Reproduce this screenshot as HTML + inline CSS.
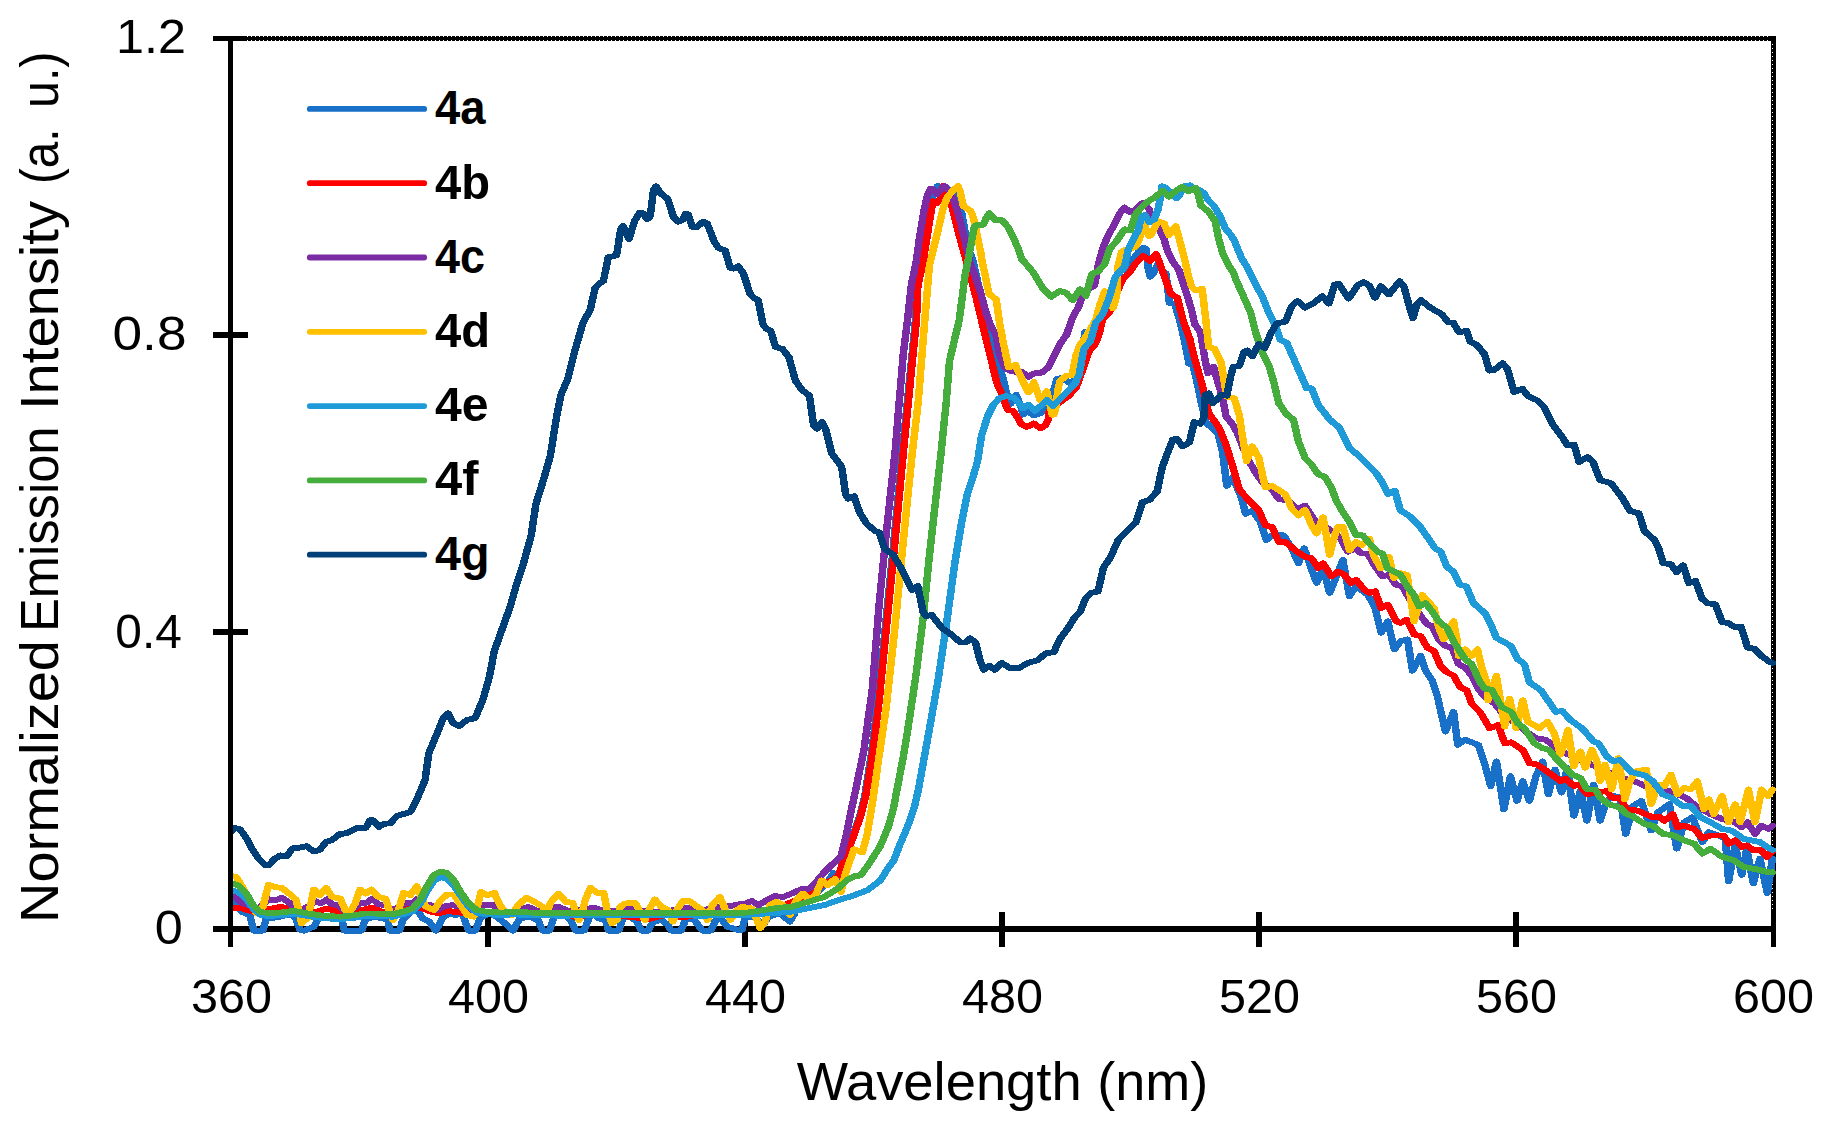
<!DOCTYPE html>
<html lang="en"><head><meta charset="utf-8"><title>Normalized Emission Intensity</title>
<style>html,body{margin:0;padding:0;background:#fff}svg{display:block}text{font-family:"Liberation Sans",sans-serif;fill:#000}.b{font-weight:bold}</style></head><body>
<svg width="1822" height="1126" viewBox="0 0 1822 1126">
<rect width="1822" height="1126" fill="#fff"/>
<g fill="#000">
<rect x="213" y="36" width="1563" height="5"/>
<rect x="1771" y="36" width="5" height="911"/>
<rect x="213" y="926" width="1563" height="6"/>
<rect x="213" y="332" width="35" height="6"/>
<rect x="213" y="629" width="35" height="6"/>
<rect x="485" y="912" width="6" height="35"/>
<rect x="742" y="912" width="6" height="35"/>
<rect x="999" y="912" width="6" height="35"/>
<rect x="1256" y="912" width="6" height="35"/>
<rect x="1513" y="912" width="6" height="35"/>
</g>
<g stroke="#fff" stroke-width="1" stroke-dasharray="1 3" shape-rendering="crispEdges"><line x1="1772.5" y1="44" x2="1772.5" y2="910"/><line x1="247.2" y1="36.5" x2="1770" y2="36.5"/><line x1="247.2" y1="40.5" x2="1770" y2="40.5"/></g>
<clipPath id="pc"><rect x="230.5" y="0" width="1546" height="1126"/></clipPath>
<g clip-path="url(#pc)"><g fill="none" stroke-width="5.8" stroke-linejoin="round" stroke-linecap="round" shape-rendering="crispEdges" transform="scale(1.29,1)">
<polyline points="178.68,898.6 187.21,911.7 193.57,915 196.74,930.7 203.80,930.7 206.36,918.3 213.95,917.5 225.50,914.2 229.30,918.3 232.48,929.8 235.66,930.7 243.33,926.6 247.21,918.3 257.36,918.3 265.04,920 266.98,930.7 280.39,930.7 282.95,920 289.30,916.7 296.98,918.3 300.78,920 302.09,930.7 309.69,930.7 312.25,920 318.68,911.7 323.80,910.1 327.60,918.3 332.71,921.6 337.83,930.7 342.95,918.3 347.98,913.4 353.10,915 358.22,913.4 363.33,930.7 368.45,930.7 372.25,918.3 378.68,913.4 385.04,916.7 391.40,923.3 397.83,930.7 402.87,918.3 404.19,918.3 410.54,916.7 416.98,920 420.78,930.7 425.89,930.7 429.69,916.7 437.36,915 442.48,920 446.28,930.7 452.71,930.7 456.51,918.3 459.07,911.7 464.19,918.3 469.30,920 471.86,930.7 479.53,930.7 483.33,916.7 489.69,917.5 493.57,921.6 497.36,930.7 502.48,930.7 506.28,921.6 512.71,920 517.83,924.9 520.31,930.7 527.98,930.7 531.86,918.3 538.22,920 544.57,930.7 551.01,930.7 554.81,920 558.60,918.3 563.72,926.6 571.40,929.8 575.27,929.8 577.75,916.7 584.19,916.7 591.86,924.9 595.66,916.7 604.57,913.4 612.25,921.6 616.05,913.4 617.36,905.1 626.28,898.6 635.27,890.3 641.63,882.1 646.12,873 650.54,877.2 653.72,859 660.16,839.3 666.51,816.2 670.31,796.5 675.35,755.3 680.70,700.2 687.05,617.6 692.40,548.8 699.53,451.7 703.33,402.3 707.21,352.9 709.69,320 710.78,285.3 714.26,262 717.44,235.9 720.00,215.3 722.56,197.2 726.74,186.1 732.17,187.3 737.21,190.6 741.71,197.2 745.50,212.8 748.06,231.7 749.38,244.1 753.80,258.9 770.70,351.7 775.74,370 778.14,381.5 780.23,393.1 783.49,403.8 787.67,394.6 791.24,406.1 793.02,414.6 796.59,411.5 801.40,415.3 806.74,413 810.93,410 813.33,404.6 816.28,393.1 819.22,379.2 822.87,377.7 827.60,381.5 830.54,383.8 836.05,372.7 841.16,331.9 843.72,349 848.37,342.4 851.40,333.2 853.64,320.1 860.00,310.8 865.12,292.4 869.53,279.2 873.95,274.7 878.53,258.9 883.18,251 886.20,247.6 888.53,249 890.08,268.8 891.55,276.7 893.88,273.7 897.67,263.9 900.78,269.8 903.88,273.7 906.51,302.9 910.62,304.2 914.65,320.8 918.45,342.2 921.63,363.6 924.88,365.3 928.68,386.7 931.86,406.4 935.04,422.9 944.03,433.2 947.83,452.9 951.01,485.9 955.50,477.6 961.86,495.7 965.66,513.9 970.78,510.6 977.21,522.1 981.63,540.2 986.12,535.3 995.04,535.3 1001.47,548.4 1006.51,563.3 1011.01,548.4 1015.50,564.9 1020.62,583 1025.66,568.2 1030.78,592.9 1035.89,576.4 1041.01,560 1046.12,596.2 1051.24,586.3 1060.16,594.5 1065.58,606.5 1070.70,632.8 1075.81,621.3 1080.85,649.3 1085.97,641 1091.09,639.4 1094.96,670.7 1101.32,655.9 1105.12,670.7 1110.23,680.6 1114.11,695.4 1120.47,731.6 1126.82,711.9 1130.00,744.8 1135.74,739.8 1145.97,744.8 1151.09,764.7 1155.58,786.1 1160.08,761.4 1165.81,809.2 1170.93,776.2 1175.97,800.9 1180.47,781.2 1185.58,800.9 1190.70,776.2 1195.81,761.4 1200.23,794.3 1205.35,769.6 1210.47,792.7 1214.96,768 1220.08,815.7 1225.12,791 1230.23,820.7 1235.35,784.5 1240.47,820.7 1245.58,800.9 1250.70,796 1255.81,797.6 1260.23,833.9 1265.97,805.9 1272.40,800.9 1280.00,830.6 1285.12,812.5 1294.11,804.2 1299.84,848.7 1305.58,822.3 1311.94,817.4 1319.61,842.1 1324.73,832.2 1332.40,835.5 1337.44,838.8 1340.00,881.6 1345.12,845.4 1350.23,875 1354.11,848.7 1359.15,883.3 1364.26,858.6 1370.00,893.1 1373.95,858.6" stroke="#1870C8"/>
<polyline points="178.68,907.6 187.21,908.4 196.12,911.7 207.60,909.3 217.83,906.8 225.50,910.1 235.66,911.7 245.89,911.7 253.57,908.4 261.24,911.7 271.40,913.4 280.39,910.1 288.68,907.6 295.66,911.7 308.45,911.7 314.81,908.4 327.60,908.4 333.95,911.7 340.39,913.4 346.74,910.9 356.98,912.6 365.89,913.4 378.68,911.7 391.40,913.4 401.63,912.6 413.10,913.7 432.25,915 445.04,916.7 464.19,914.2 487.13,916.7 502.48,919.1 515.27,915 527.98,917.5 547.13,914.2 566.28,913.4 579.07,911.7 591.86,910.1 604.57,906.8 611.01,903.5 619.92,898.6 630.16,893.6 636.51,885.4 644.19,880.4 649.92,876.3 654.42,859 660.78,839.3 667.13,816.2 671.01,796.5 676.20,755.3 681.55,700.2 687.91,617.6 693.26,548.8 700.31,451.7 704.11,402.3 707.91,352.9 710.47,320 711.55,285.3 715.58,262 718.76,235.9 721.32,215.3 723.18,201.3 726.36,202.9 729.61,197.2 731.16,186.1 737.21,202.9 740.54,219.4 743.72,235.9 746.28,248.2 749.07,260.6 756.43,296.3 762.56,329.3 772.79,383.1 776.98,395.4 779.38,403.8 781.16,410 785.27,410.7 788.91,417.6 791.24,423.8 796.05,426.9 801.40,423.4 806.74,428.4 810.31,425.3 812.71,419.2 813.33,411.5 819.22,404.6 828.22,396.1 834.19,387.7 837.13,377.7 844.03,351.7 849.15,343.8 852.25,333.2 854.50,320.1 860.78,310.8 865.89,292.4 870.31,279.2 875.50,272.7 880.08,263.9 886.20,256 891.55,260.9 896.20,254 899.22,263.9 904.50,283.2 907.52,293.7 912.64,297.7 917.21,320.8 922.33,338.9 926.12,358.7 931.24,381.7 934.42,398.2 936.98,413 941.47,421.2 945.27,428.2 950.39,444.7 955.50,466.1 960.62,489.2 966.98,499 975.89,510.6 981.01,525.4 986.12,527 991.24,541.9 996.36,541.9 1003.95,550.1 1011.63,556.7 1016.74,558.3 1021.86,568.2 1025.66,563.3 1032.09,576.4 1037.21,571.5 1042.25,574.8 1047.36,583 1051.24,579.7 1057.60,589.6 1061.40,592.9 1065.89,591.2 1070.70,608.1 1075.81,604.8 1082.17,621.3 1085.97,622.9 1090.47,619.6 1096.20,634.5 1101.32,636.1 1106.43,647.6 1111.55,650.9 1116.59,665.7 1121.71,672.3 1126.82,675.6 1131.94,687.2 1137.05,690.4 1140.85,703.6 1147.29,711.9 1154.88,728.3 1161.32,725 1166.43,743.1 1171.47,742.3 1180.47,749.9 1185.58,763.1 1191.94,764.7 1200.93,772.9 1209.84,781.2 1213.64,778.7 1220.08,786.1 1223.88,784.5 1230.23,794.3 1236.67,792.7 1245.58,791 1249.38,797.6 1255.81,797.6 1260.93,809.2 1269.84,810.8 1281.32,817.4 1286.43,816.6 1290.23,820.7 1296.67,814.1 1300.47,827.3 1305.58,825.6 1313.26,828.9 1319.61,838 1325.97,835.5 1336.20,835.5 1340.00,843.7 1345.12,840.4 1350.23,847 1354.11,845.4 1359.15,850.3 1364.26,849.5 1370.00,856.9 1373.95,851.1" stroke="#FF0000"/>
<polyline points="178.68,897.7 182.09,896.9 187.21,902.7 199.92,908.4 208.91,899.4 213.95,900.2 218.45,897.7 224.19,902.7 229.30,910.1 235.66,908.4 240.78,905.1 244.65,901 248.45,903.5 253.57,899.4 257.36,904.3 262.48,905.1 267.60,911.7 272.71,910.1 279.07,903.5 284.19,902.7 288.68,898.6 293.10,904.3 299.53,905.1 304.65,910.1 309.69,906.8 314.81,902.7 319.92,903.5 323.80,898.6 327.60,905.1 333.95,905.1 339.07,910.1 345.43,906 350.54,905.1 356.98,906.8 362.09,911.7 371.01,910.1 374.81,905.1 382.48,905.1 387.60,911.7 399.07,911.7 400.39,911.7 409.30,906.8 418.22,911.7 432.25,906.5 442.48,911.7 460.39,907.6 470.54,911.7 488.45,908.4 502.48,911.7 515.27,911.7 531.86,907.6 543.33,910.9 556.12,906.8 566.28,906 572.71,904.3 577.75,903.5 582.87,901 587.98,905.1 594.42,900.2 600.78,896.1 607.13,896.9 613.57,893.6 616.12,892 622.48,888.7 627.60,888.7 632.71,882.1 637.83,873.9 644.19,865.6 651.86,856.6 655.66,837.6 659.46,812.9 663.33,789.9 669.77,749.7 676.20,689.2 681.55,603.9 686.90,535.1 693.88,451.7 697.05,402.3 700.31,352.9 703.49,320 706.43,285.3 710.16,262 713.02,235.9 716.20,211.2 719.07,194.7 721.32,188.9 723.18,189.3 726.36,193.9 729.61,189.8 732.17,186.1 735.35,190.6 738.53,197.2 741.71,208.7 744.88,223.5 747.44,237.5 750.00,252.3 751.94,262 759.53,289.8 764.57,313.5 768.68,328 771.78,333.2 774.81,354.3 778.91,367.5 784.03,371.4 792.17,372.1 797.29,376.7 801.40,373.4 807.52,372.7 812.64,367.5 817.67,354.3 821.78,343.8 826.90,334.5 831.01,318.7 836.05,306.9 839.15,296.3 842.17,289.8 848.37,285.8 851.40,264.8 855.19,247.1 859.46,234.2 864.03,224.3 867.83,213.5 871.71,207.5 876.28,212.5 880.08,209.5 886.20,202.6 890.85,209.5 892.33,215.4 898.45,229.3 902.33,239.2 905.35,252 909.22,261.9 913.80,269.8 918.45,287.9 923.57,309.3 926.12,324.1 930.62,332.3 933.80,357 936.36,373.5 940.78,366.9 944.03,381.7 947.83,398.2 950.39,416.3 955.50,424.5 959.30,433.2 963.18,446.3 968.22,461.2 973.33,472.7 979.77,484.2 986.12,489.2 991.24,499 998.91,500.7 1005.27,508.9 1011.63,505.6 1019.30,520.4 1029.53,528.7 1038.45,536.9 1044.81,551.7 1051.24,548.4 1055.04,553.4 1060.16,553.4 1065.27,564.9 1071.63,576.4 1076.74,574.8 1081.86,584.7 1086.98,586.3 1096.20,606.5 1102.56,618 1106.43,624.6 1110.23,626.2 1115.35,639.4 1120.47,646 1125.58,647.6 1130.70,664.1 1135.74,667.4 1140.85,675.6 1145.97,688.8 1151.09,697 1158.76,703.6 1163.88,711.9 1170.23,720.1 1176.59,723.4 1183.02,731.6 1190.62,738.2 1198.29,739.8 1203.41,744.8 1204.73,747.4 1217.52,755.6 1236.67,766.3 1255.81,777 1269.84,782.8 1281.32,789.4 1294.11,791 1306.82,797.6 1314.50,805.9 1325.97,814.1 1334.96,819 1345.12,822.3 1350.23,827.3 1354.73,822.3 1360.47,833.9 1365.58,825.6 1370.70,828.9 1373.95,825.6" stroke="#7B2CA4"/>
<polyline points="178.68,875.5 183.33,877.2 187.21,885.4 193.57,901.9 198.68,913.4 203.80,906.8 208.22,884.6 212.71,887 218.45,887.9 224.19,893.6 229.30,899.4 231.86,911.7 233.80,923.3 238.22,918.3 240.78,905.1 243.33,889.5 247.83,895.3 252.95,887.9 257.36,896.9 263.80,898.6 267.60,910.1 271.40,911.7 275.27,903.5 279.07,889.5 283.57,893.6 288.06,889.5 293.10,896.9 298.84,898.6 302.09,911.7 304.65,920 308.45,911.7 312.95,892.8 317.98,895.3 323.10,886.2 326.98,898.6 330.16,906.8 336.51,910.1 341.63,900.2 346.74,894.4 351.86,894.4 356.98,905.1 362.09,915 367.13,916.7 369.69,908.4 372.95,892 377.98,895.3 383.10,892.8 387.60,905.1 391.40,911.7 396.51,915 401.63,905.1 401.63,905.1 407.98,897.7 414.42,901.9 420.78,906.8 423.33,913.4 427.13,901.9 432.95,893.6 438.68,901.9 443.80,902.7 446.28,911.7 448.84,920 451.40,911.7 453.95,898.6 457.83,887.9 462.95,892.8 467.98,892.8 470.54,910.1 474.42,923.3 478.22,920 480.78,906.8 484.57,903.5 492.25,902.7 496.12,911.7 499.92,920 502.48,911.7 507.60,899.4 512.71,906.8 517.83,910.1 521.63,921.6 525.43,908.4 529.30,901 534.42,901 540.78,906.8 545.89,911.7 548.45,920 552.25,905.1 557.98,896.9 562.48,910.1 566.28,920 571.40,910.1 575.27,906.8 582.87,908.4 586.74,920 589.30,928.2 593.10,921.6 596.90,905.1 602.02,901.9 607.13,905.1 612.25,915 617.36,900.2 622.48,893.6 627.60,900.2 632.71,893.6 637.13,880.4 641.63,885.4 647.36,878.8 651.86,892 655.66,872.2 662.02,849.2 668.45,852.5 672.25,834.3 676.12,804.7 681.55,755.3 686.90,708.5 693.26,634.1 698.60,562.6 702.87,507.5 707.29,451.7 711.78,402.3 714.34,361.2 716.90,320 720.47,265.5 724.50,244.1 727.67,227.6 730.85,209.5 734.03,198 738.53,190.6 742.64,186.1 744.26,191.4 746.82,206.2 752.56,211.2 754.50,217.7 756.36,227.6 758.29,240 760.23,252.3 761.47,262 766.67,293.7 772.25,299.6 774.81,322.7 777.91,343.8 781.94,367.5 787.05,364.8 792.17,379.3 797.29,392.5 801.40,382 806.43,400.4 811.55,391.2 815.66,414.9 816.90,414.6 818.68,406.9 819.84,391.5 821.63,380.8 826.98,375.4 831.01,375.4 834.03,355.6 837.13,345.1 842.17,335.9 849.38,320.1 852.40,305.6 856.51,291.1 862.64,308.2 865.66,296.3 866.28,268.8 869.38,252 872.09,250 880.08,247.1 883.18,239.2 886.98,224.3 890.85,236.2 893.10,233.2 897.67,221.4 902.33,223.3 906.12,235.2 911.47,226.3 913.80,237.2 916.82,252 919.15,263.9 921.01,274.7 923.57,286.2 926.74,290.3 931.86,288.7 934.42,315.9 936.98,347.2 941.47,348.8 946.51,362 949.07,381.7 951.01,396.6 956.74,398.2 960.62,414.7 963.18,436.5 966.36,461.2 970.78,446.3 975.89,457.9 979.07,477.6 981.01,487.5 986.12,485.9 996.36,494.1 1001.47,508.9 1006.51,515.5 1011.63,509.7 1016.74,525.4 1020.62,533.6 1025.66,517.2 1030.78,555 1034.65,535.3 1037.21,527 1041.01,527 1046.12,550.1 1051.24,541.9 1055.66,545.1 1061.40,538.6 1065.27,556.7 1070.39,568.2 1076.74,556.7 1080.54,578.1 1085.66,573.1 1090.78,574.8 1096.20,621.3 1102.56,594.9 1111.55,608.1 1115.35,627.9 1119.15,639.4 1126.82,621.3 1129.38,639.4 1130.70,655.9 1135.74,649.3 1140.85,655.9 1145.35,649.3 1148.53,667.4 1152.40,682.2 1153.64,700.3 1160.00,675.6 1162.56,695.4 1166.43,726.7 1170.23,698.7 1175.35,728.3 1180.47,700.3 1184.26,721.7 1189.38,725 1193.18,728.3 1199.61,721.7 1204.73,733.3 1209.77,754.7 1215.58,730 1220.00,766.2 1225.12,751.4 1228.91,767.8 1234.03,749.7 1237.91,761.4 1240.47,781.2 1244.26,764.7 1249.38,789.4 1254.50,758.1 1259.61,799.3 1263.41,781.2 1268.53,771.3 1276.20,769.6 1280.00,804.2 1285.12,784.5 1290.23,786.1 1295.35,774.6 1300.47,794.3 1305.58,787.8 1310.70,789.4 1315.81,781.2 1320.85,809.2 1324.73,799.3 1328.53,814.1 1334.96,796 1340.00,822.3 1345.12,804.2 1348.99,822.3 1355.35,789.4 1360.47,822.3 1365.58,789.4 1370.70,796 1373.95,789.4" stroke="#FFC000"/>
<polyline points="178.68,890.3 184.65,892 191.01,898.6 196.12,908.4 201.24,914.7 207.60,916 216.51,915.4 228.06,913.7 238.22,916 251.01,918.3 263.80,919.1 273.95,918 282.95,916 295.66,916.3 304.65,916.7 312.25,914.4 319.92,911.4 326.28,902.7 331.40,890.3 336.51,880.4 341.63,877.2 346.74,878.8 351.86,885.4 356.98,895.3 363.33,906.5 369.69,912.7 377.36,914.4 388.84,915 399.07,914.4 413.10,915.4 438.68,915.7 464.19,915 489.69,915.4 515.27,915 540.78,915.7 566.28,915.4 579.07,915 591.86,913.7 604.57,912.7 613.57,911.7 626.28,908.4 639.07,905.1 651.86,899.4 662.02,895.3 672.25,890.3 682.48,880.4 688.84,867.3 692.71,860.7 697.75,844.2 704.19,824.5 709.30,804.7 711.86,789.9 719.92,733.2 727.44,678.2 733.80,623.1 740.23,562.6 745.58,521.3 749.84,493.8 753.26,481.4 757.75,461.6 760.93,435.3 765.66,416.1 769.84,405.3 774.57,398.4 779.92,396.1 785.89,397.7 789.46,402.3 793.02,408.4 797.21,404.6 802.02,410.7 807.36,405.3 811.55,400 816.28,406.1 822.25,398.4 828.22,390.7 833.57,383.1 836.51,374.6 840.16,349 845.27,341.1 849.38,322.7 854.50,314.8 859.53,299 864.65,276.6 867.83,271.8 871.71,266.8 874.73,249 878.53,239.2 882.40,230.3 884.73,217.4 887.36,215 890.85,222.4 894.65,219.4 897.67,209.5 899.61,196.7 900.78,186.3 903.10,187.3 907.67,193.2 911.86,198.2 914.57,194.7 917.60,186.3 922.25,185.3 925.27,188.8 929.15,189.8 932.95,192.7 936.74,200.6 941.40,206.6 945.97,216.4 949.77,228.3 953.64,234.2 956.67,240.1 959.77,250 962.79,258.9 966.67,266.8 973.33,284.6 978.45,296.1 983.57,312.6 988.68,325.7 992.48,339.7 997.60,343 1003.95,362 1009.07,376.8 1012.95,388.3 1016.74,388.3 1021.86,404.8 1030.78,419.6 1038.45,427.8 1046.12,448 1053.80,456.2 1066.51,472.7 1071.63,482.6 1076.12,494.1 1081.24,490.8 1085.66,510.6 1092.09,515.5 1101.01,527 1107.36,538.6 1112.48,548.4 1116.98,551.7 1121.40,566.6 1126.51,571.5 1131.63,584.7 1136.74,586.3 1142.17,603.2 1151.09,613.1 1156.20,626.2 1160.00,637.8 1171.47,646 1176.59,659.2 1181.71,664.1 1185.58,682.2 1194.50,690.4 1200.85,702 1205.97,711.9 1211.09,711 1217.44,720.1 1226.43,728.3 1235.35,741.5 1239.22,743.3 1245.58,756.5 1250.70,761.4 1255.81,759.8 1264.73,772.1 1274.96,775.4 1281.32,781.2 1288.99,794.3 1295.35,797.6 1304.26,805.9 1310.70,805.9 1318.29,817.4 1325.97,822.3 1334.96,828.9 1342.56,830.6 1351.55,838.8 1357.91,840.4 1364.26,842.1 1371.94,848.7 1373.95,850" stroke="#1D9AD7"/>
<polyline points="178.68,882.9 184.65,885.4 191.01,893.6 196.12,905.1 201.24,911.7 207.60,913 216.51,912.6 228.06,910.9 238.22,913.4 251.01,915.8 263.80,916.7 273.95,915.4 282.95,913.4 295.66,913.7 304.65,914.2 312.25,911.7 319.92,908.4 326.28,898.6 331.40,885.4 336.51,874.7 341.63,871.4 346.74,873 351.86,880.4 356.98,892 363.33,903.5 369.69,910.1 377.36,911.7 388.84,912.6 399.07,911.7 413.10,912.7 438.68,913 464.19,912.7 489.69,913 515.27,912.7 540.78,913.4 566.28,913 579.07,912.6 591.86,910.1 604.57,907.6 613.57,906.8 626.28,901.9 639.07,896.9 649.30,888.7 656.98,879.6 662.02,876.3 667.13,875.5 673.57,864 682.48,845.9 688.84,826.1 692.71,808 695.27,789.9 699.69,760.8 703.95,727.7 710.31,672.7 715.66,617.6 719.92,562.6 724.19,513 729.61,451.7 733.49,402.3 736.05,361.2 741.16,333.2 743.64,320 748.06,275.4 751.09,255.6 755.12,227.6 756.36,225.2 762.09,224.7 764.65,217.7 766.90,213.2 771.71,220.2 776.82,220.2 781.24,226.8 785.74,238.3 789.53,249 791.94,258.9 800.85,272.1 808.53,288.6 814.88,296.8 821.32,291 826.43,292.7 831.55,300.1 837.29,289.4 841.71,296 846.43,273.7 851.01,271.8 856.36,263.9 860.16,249 865.58,241.1 871.71,229.3 876.28,230.3 880.08,214.5 886.20,205.6 890.85,200.6 895.43,197.2 901.16,190.7 906.12,196.7 910.70,191.7 916.12,186.8 921.47,191.2 926.82,187.8 929.15,195.7 931.01,205.6 936.74,211.5 942.09,221.4 944.42,237.2 947.52,252 952.09,264.8 956.67,273.7 958.06,279.6 964.42,297.8 969.53,312.6 973.33,332.3 978.45,352.1 983.57,365.3 987.36,381.7 991.24,403.1 997.60,414.7 1002.71,419.6 1006.51,441.4 1011.63,457.9 1016.74,464.5 1021.86,474.3 1026.98,476.8 1032.09,487.5 1035.89,500.7 1041.01,512.2 1046.12,522.1 1051.24,535.3 1056.36,535.3 1062.71,545.1 1067.83,551.7 1071.63,553.4 1075.50,568.2 1085.66,574.8 1090.78,586.3 1095.89,594.5 1100.00,606.5 1105.12,603.2 1110.23,611.4 1115.35,621.3 1121.71,627.9 1128.14,644.3 1135.74,659.2 1140.85,664.1 1147.29,682.2 1151.09,688.8 1156.20,689.6 1163.88,706.9 1171.47,711.9 1176.59,723.4 1181.71,728.3 1186.82,738.2 1189.38,743.3 1195.81,748.2 1200.93,749.9 1205.97,758.1 1212.40,766.3 1218.76,774.6 1225.12,777.9 1230.23,789.4 1236.67,789.4 1240.47,797.6 1246.82,804.2 1255.81,807.5 1260.93,814.1 1264.73,815.7 1274.96,824 1281.32,825.6 1288.99,833.9 1297.91,835.5 1305.58,840.4 1313.26,843.7 1319.61,853.6 1325.97,848.7 1334.96,856.9 1343.88,860.2 1351.55,866.8 1361.71,869.3 1371.94,872.6 1373.95,872.2" stroke="#45AD3B"/>
<polyline points="178.68,832.4 182.09,828.1 185.89,829.1 190.39,836.8 195.50,849.2 200.62,859 205.66,865.1 208.91,864.8 212.71,859 217.21,855.4 222.25,856.6 226.74,848.3 231.86,847.8 237.60,846.2 243.33,851.6 247.83,850 252.95,841.7 257.36,840.1 263.10,834.3 268.91,833 276.51,828.2 283.57,827.8 286.74,820.3 289.30,820.3 293.80,826.9 297.60,824.1 302.71,823.1 307.83,815.7 312.25,814.2 317.98,812.1 322.48,801.4 326.28,789.9 329.53,780 332.40,753.4 338.60,734.2 343.57,718.2 347.29,713.4 351.01,723 355.97,726.2 362.17,719.8 368.37,718.2 374.50,699 379.46,676.6 383.18,651.1 389.38,628.7 395.58,606.3 400.54,583.9 405.50,564.7 411.71,535.9 415.43,504 421.63,478.4 426.59,456 431.09,419.5 434.88,394.6 440.23,378.5 445.50,351.1 450.31,330 451.78,323 457.52,309.8 461.40,287.6 463.95,284.3 467.75,281 471.55,257.2 474.81,256.3 477.98,255.5 481.16,229.2 483.10,225.9 487.52,239 492.02,220.9 495.81,212.7 498.99,213.5 501.55,219.3 504.11,216 506.67,189.6 508.60,186.3 512.40,193.8 517.52,198.7 522.02,216.8 525.81,221.7 528.99,220.1 531.55,213.5 533.49,214.3 536.67,226.7 539.84,227.5 544.96,221.7 548.14,223.4 553.88,242.3 557.13,248.1 562.17,250.6 566.05,267.9 568.60,268.7 572.40,266.2 576.28,273.6 581.32,293.4 583.88,297.5 587.75,300 591.55,324.7 594.11,328.8 597.29,330.4 601.32,347.2 606.43,348.8 611.55,357 616.67,380.9 621.78,390 627.52,395.7 630.70,425.4 633.26,428.7 637.13,422.1 640.31,430.3 644.73,453.4 648.60,460 652.40,466.6 655.58,494.5 657.52,498.7 662.02,496.2 666.59,513 671.94,524 678.37,530.9 681.55,532.3 685.81,548.8 692.17,554.3 699.69,570.8 707.13,590.1 711.40,586 715.66,612.1 717.83,616.3 722.09,614.9 730.62,628.6 736.98,634.1 744.50,642.4 748.76,642.4 751.94,638.3 756.20,642.4 759.38,658.9 762.64,669.9 766.90,665.8 771.16,669.9 776.51,663 782.87,668 789.30,668.5 796.74,663 804.26,660.3 810.62,653.4 817.05,652 821.32,639.6 827.67,628.6 833.02,617.6 837.29,612.1 841.55,598.4 845.81,592.9 851.16,591.5 855.43,567.5 860.70,557.7 866.74,540.2 872.79,532.3 880.39,522.6 885.66,502.1 891.01,500.1 897.05,491.3 900.85,467.9 904.65,454.2 909.15,439.6 912.17,438.6 916.74,446.4 922.02,442.5 925.81,422 930.39,423.9 933.18,418 934.42,394.9 936.98,393.3 940.16,403.1 943.33,399.8 946.51,394.9 951.01,395.7 954.19,375.1 956.12,366.9 960.62,366.1 964.42,352.1 966.98,350.4 970.78,356.2 975.89,343.9 980.39,348 985.50,332.3 989.92,323.3 996.36,321.6 1001.47,306 1005.89,301 1011.63,307.6 1018.06,303.5 1025.04,296.1 1030.16,303.5 1034.65,284.6 1037.83,283.8 1045.50,298.6 1052.48,285.4 1056.98,282.1 1061.40,285.4 1065.89,297.8 1070.39,286.2 1076.74,294.5 1085.04,281.3 1088.22,286.2 1092.09,304.3 1095.27,318.3 1098.45,304.3 1101.63,300.2 1108.68,307.6 1117.60,314.2 1122.71,322.5 1126.51,322.5 1131.01,332.3 1136.74,330.7 1139.92,341.9 1144.96,345.2 1150.78,354.2 1154.57,370.7 1158.37,369.9 1164.81,363.3 1168.60,369 1173.72,392.1 1180.08,388.8 1184.57,396.2 1191.63,400.3 1196.67,406.9 1203.10,423.4 1206.90,430 1210.78,436.6 1215.19,445.6 1220.31,444.8 1224.11,462.1 1230.54,457.1 1234.96,462.1 1240.31,480 1248.91,483.3 1257.52,497.7 1263.49,511 1270.39,513.3 1274.73,531 1282.48,539.9 1285.89,548.8 1289.30,563.2 1295.35,564.3 1299.69,572.1 1304.81,565.4 1309.15,583.2 1314.26,581 1319.46,598.7 1323.72,603.2 1329.77,604.3 1334.96,622.1 1340.08,623.2 1345.27,627.6 1349.61,626.5 1354.73,647.6 1359.92,648.7 1365.89,656.5 1371.94,662 1374.03,662.9" stroke="#003F78"/>
</g></g>
<rect x="228" y="36" width="5" height="911" fill="#000"/>
<g fill="none" stroke-width="5.8" stroke-linecap="round">
<line x1="309.8" y1="108.9" x2="424.2" y2="108.9" stroke="#1870C8"/>
<line x1="309.8" y1="183.2" x2="424.2" y2="183.2" stroke="#FF0000"/>
<line x1="309.8" y1="257.5" x2="424.2" y2="257.5" stroke="#7B2CA4"/>
<line x1="309.8" y1="331.8" x2="424.2" y2="331.8" stroke="#FFC000"/>
<line x1="309.8" y1="406.1" x2="424.2" y2="406.1" stroke="#1D9AD7"/>
<line x1="309.8" y1="480.4" x2="424.2" y2="480.4" stroke="#45AD3B"/>
<line x1="309.8" y1="554.7" x2="424.2" y2="554.7" stroke="#003F78"/>
</g>
<text class="b" x="435" y="124.3" font-size="49" textLength="50.5" lengthAdjust="spacingAndGlyphs">4a</text>
<text class="b" x="435" y="198.5" font-size="49" textLength="55" lengthAdjust="spacingAndGlyphs">4b</text>
<text class="b" x="435" y="272.7" font-size="49" textLength="50" lengthAdjust="spacingAndGlyphs">4c</text>
<text class="b" x="435" y="346.9" font-size="49" textLength="55" lengthAdjust="spacingAndGlyphs">4d</text>
<text class="b" x="435" y="421.1" font-size="49" textLength="53.5" lengthAdjust="spacingAndGlyphs">4e</text>
<text class="b" x="435" y="495.3" font-size="49" textLength="43.5" lengthAdjust="spacingAndGlyphs">4f</text>
<text class="b" x="435" y="569.5" font-size="49" textLength="54.5" lengthAdjust="spacingAndGlyphs">4g</text>
<text x="186" y="53.2" font-size="49" text-anchor="end" textLength="70" lengthAdjust="spacingAndGlyphs">1.2</text>
<text x="186.5" y="350" font-size="49" text-anchor="end" textLength="74" lengthAdjust="spacingAndGlyphs">0.8</text>
<text x="181.8" y="648" font-size="49" text-anchor="end" textLength="66.5" lengthAdjust="spacingAndGlyphs">0.4</text>
<text x="182.7" y="943.5" font-size="49" text-anchor="end" textLength="28" lengthAdjust="spacingAndGlyphs">0</text>
<text x="231.5" y="1013" font-size="49" text-anchor="middle" textLength="81" lengthAdjust="spacingAndGlyphs">360</text>
<text x="488.5" y="1013" font-size="49" text-anchor="middle" textLength="81" lengthAdjust="spacingAndGlyphs">400</text>
<text x="745.5" y="1013" font-size="49" text-anchor="middle" textLength="81" lengthAdjust="spacingAndGlyphs">440</text>
<text x="1002.5" y="1013" font-size="49" text-anchor="middle" textLength="81" lengthAdjust="spacingAndGlyphs">480</text>
<text x="1259.5" y="1013" font-size="49" text-anchor="middle" textLength="81" lengthAdjust="spacingAndGlyphs">520</text>
<text x="1516.5" y="1013" font-size="49" text-anchor="middle" textLength="81" lengthAdjust="spacingAndGlyphs">560</text>
<text x="1773.5" y="1013" font-size="49" text-anchor="middle" textLength="81" lengthAdjust="spacingAndGlyphs">600</text>
<text y="1100.4" font-size="54"><tspan x="796.7" textLength="285" lengthAdjust="spacingAndGlyphs">Wavelength</tspan> <tspan x="1097.3" textLength="111" lengthAdjust="spacingAndGlyphs">(nm)</tspan></text>
<text transform="translate(58,1126) rotate(-90)" y="0" font-size="54"><tspan x="203" textLength="283" lengthAdjust="spacingAndGlyphs">Normalized</tspan> <tspan x="494" textLength="205.5" lengthAdjust="spacingAndGlyphs">Emission</tspan> <tspan x="716" textLength="209" lengthAdjust="spacingAndGlyphs">Intensity</tspan> <tspan x="942" textLength="55.5" lengthAdjust="spacingAndGlyphs">(a.</tspan> <tspan x="1018" textLength="56.5" lengthAdjust="spacingAndGlyphs">u.)</tspan></text>
</svg></body></html>
